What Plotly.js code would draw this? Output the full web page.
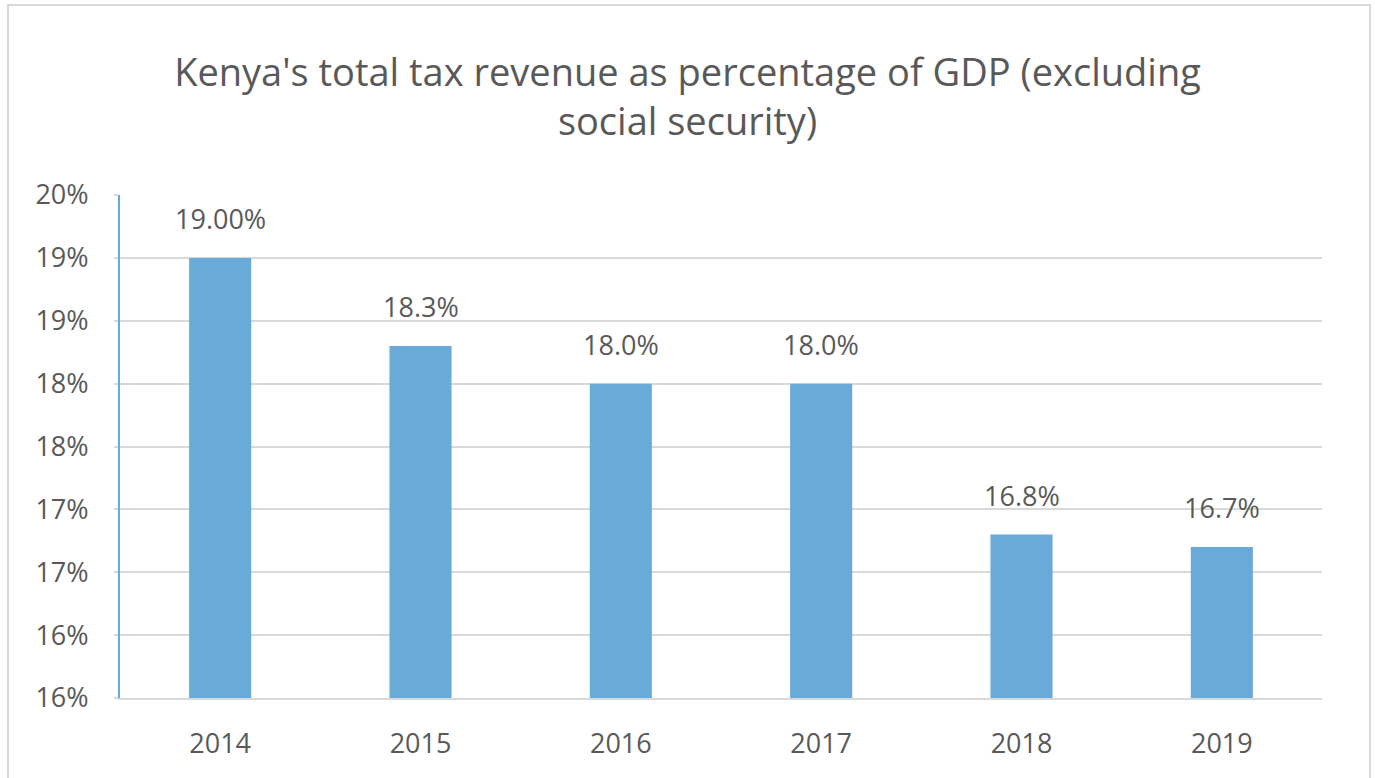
<!DOCTYPE html>
<html>
<head>
<meta charset="utf-8">
<script src="https://cdn.plot.ly/plotly-3.0.1.min.js"></script>
<style>
  html, body { margin: 0; padding: 0; background: #ffffff; }
  #wrap { position: relative; width: 1375px; height: 778px; overflow: hidden; }
  #chart { width: 1375px; height: 778px; }
  #frame { position: absolute; left: 7px; top: 4px; width: 1360px; height: 800px;
           border: 2px solid #d9d9d9; pointer-events: none; }
</style>
</head>
<body>
<div id="wrap">
  <div id="chart"></div>
  <div id="frame"></div>
</div>
<script>
// ---- data ----
const years = ["2014", "2015", "2016", "2017", "2018", "2019"];
const revenuePct = [19.0, 18.3, 18.0, 18.0, 16.8, 16.7];
const valueLabels = ["19.00%", "18.3%", "18.0%", "18.0%", "16.8%", "16.7%"];
const yTickVals = [15.5, 16.0, 16.5, 17.0, 17.5, 18.0, 18.5, 19.0, 19.5];
const yTickText = ["16%", "16%", "17%", "17%", "18%", "18%", "19%", "19%", "20%"];
const chartTitle = "Kenya's total tax revenue as percentage of GDP (excluding<br>social security)";

const FONT = "Open Sans, Noto Sans, sans-serif";
const TEXT = "#595959";

const trace = {
  type: "bar",
  x: years,
  y: revenuePct,
  marker: { color: "#6aaad9" },
  hoverinfo: "x+y"
};

const annotations = years.map((yr, i) => ({
  x: i, y: revenuePct[i], xref: "x", yref: "y",
  text: valueLabels[i], showarrow: false,
  yanchor: "bottom", yshift: 19,
  font: { family: FONT, size: 27, color: TEXT }
}));

const layout = {
  width: 1375, height: 778,
  paper_bgcolor: "#ffffff", plot_bgcolor: "#ffffff",
  margin: { l: 120, r: 53, t: 195, b: 80 },
  showlegend: false,
  bargap: 0.69,
  title: {
    text: chartTitle,
    x: 0.5, xanchor: "center", xref: "container",
    y: 0.89, yanchor: "top", yref: "container",
    font: { family: FONT, size: 38, color: TEXT }
  },
  xaxis: {
    type: "category",
    categoryorder: "array", categoryarray: years,
    range: [-0.5, years.length - 0.5],
    showgrid: false, zeroline: false,
    showline: true, linecolor: "#d9d9d9", linewidth: 2,
    ticks: "outside", ticklen: 21, tickcolor: "rgba(0,0,0,0)",
    tickfont: { family: FONT, size: 27, color: TEXT }
  },
  yaxis: {
    range: [15.5, 19.5],
    tickvals: yTickVals, ticktext: yTickText,
    showgrid: true, gridcolor: "#d9d9d9", gridwidth: 2,
    zeroline: false,
    showline: true, linecolor: "#6aaad9", linewidth: 2,
    ticks: "outside", ticklen: 4, tickcolor: "#d9d9d9", tickwidth: 2,
    ticklabelstandoff: 20,
    tickfont: { family: FONT, size: 27, color: TEXT }
  },
  annotations: annotations
};

Plotly.newPlot("chart", [trace], layout, { displayModeBar: false, staticPlot: true });
</script>
</body>
</html>
